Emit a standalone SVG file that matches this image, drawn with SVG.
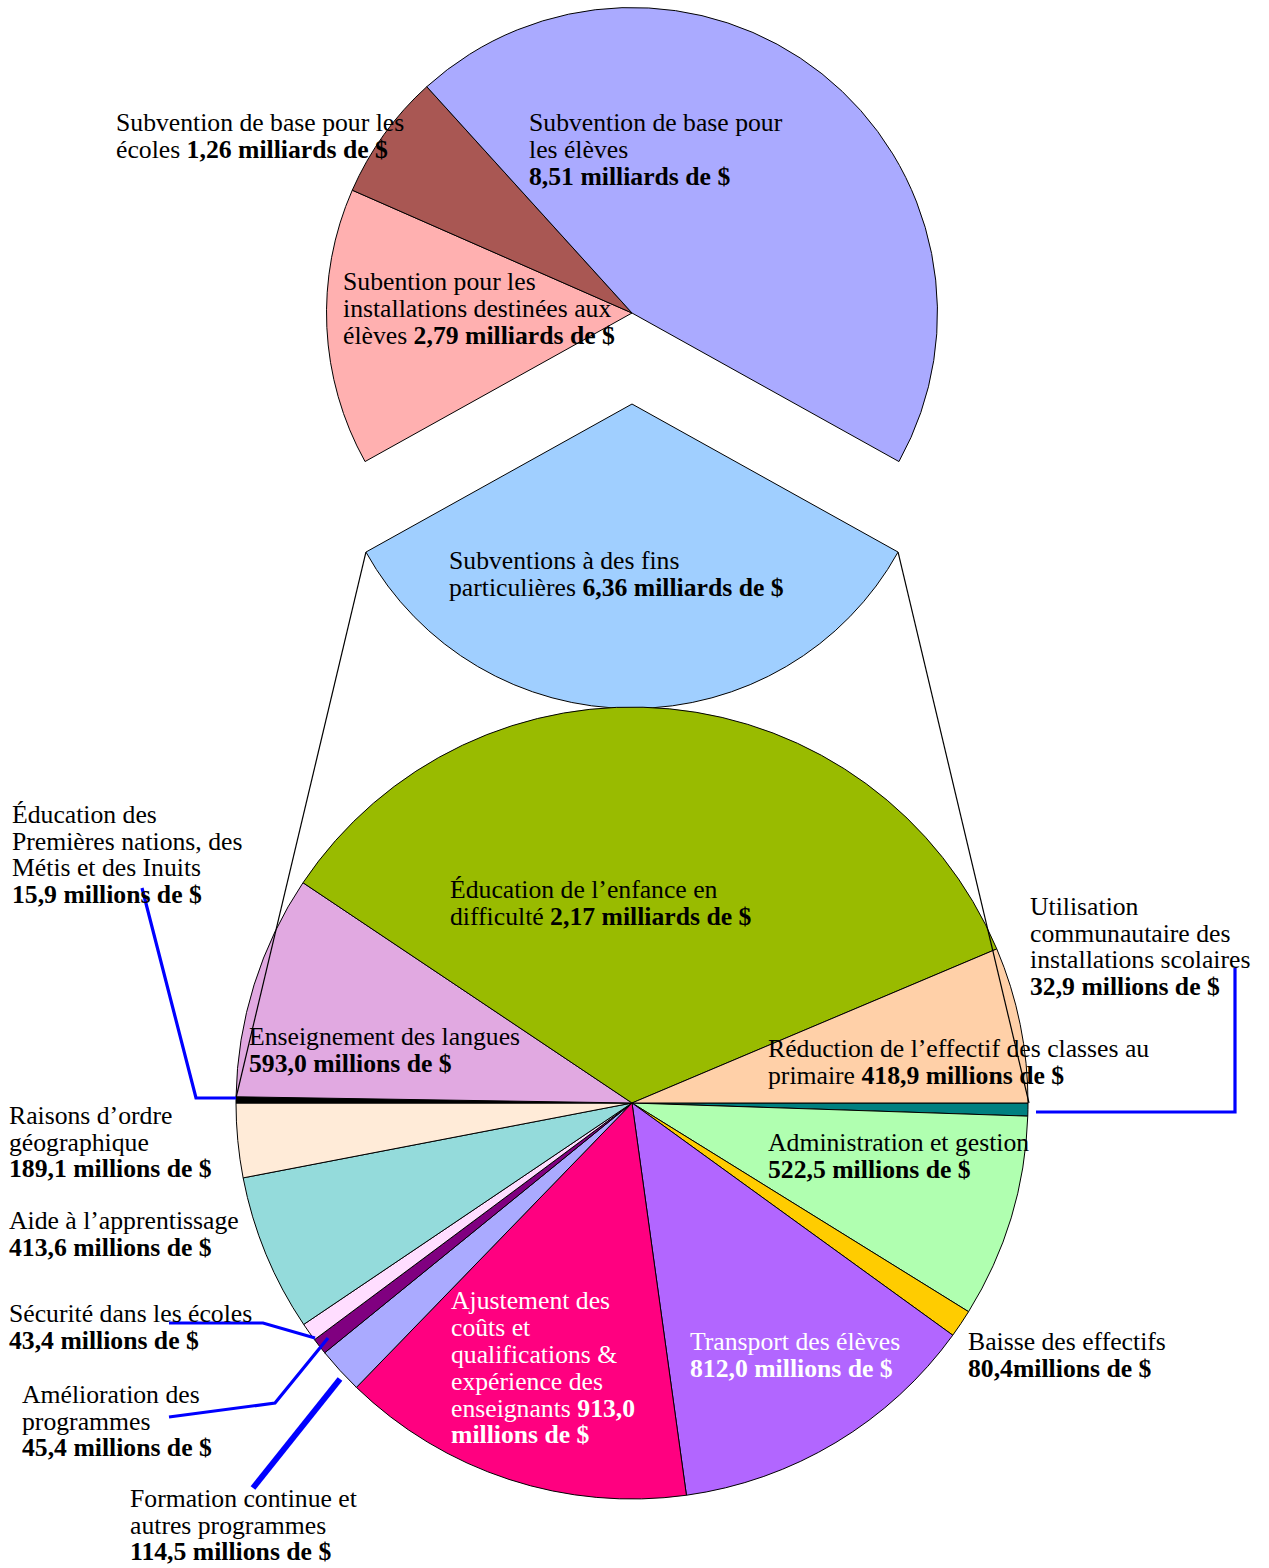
<svg xmlns="http://www.w3.org/2000/svg" width="1269" height="1568" viewBox="0 0 1269 1568">
<style>
.s{stroke:#000;stroke-width:1;stroke-linejoin:round}
text{font-family:"Liberation Serif","Times New Roman",serif;font-size:25.7px;fill:#000}
.w{fill:#fff}
.b{font-weight:bold}
.thin{fill:none;stroke:#000;stroke-width:1.2}
.lead{fill:none;stroke:#0000FF;stroke-width:3.2}
</style>
<rect width="1269" height="1568" fill="#fff"/>

<g id="top-pie">
<g id="node-subv-installations">
<path class="s" fill="#FFB0B0" d="M632,313 L365.06,461.56 A305.5,305.5 0 0 1 352.27,190.2 Z"/>
</g>
<g id="node-subv-ecoles">
<path class="s" fill="#A95753" d="M632,313 L352.27,190.2 A305.5,305.5 0 0 1 426.79,86.69 Z"/>
</g>
<g id="node-subv-eleves">
<path class="s" fill="#AAAAFF" d="M632,313 L426.79,86.69 A305.5,305.5 0 0 1 898.94,461.56 Z"/>
</g>
<g id="node-subv-fins">
<path class="s" fill="#A0CFFF" d="M632,404 L898.07,552.07 A304.5,304.5 0 0 1 365.93,552.07 Z"/>
</g>
</g>

<g id="bottom-pie">
<g id="node-utilisation"><path class="s" fill="#008080" d="M632,1103 L1028,1103 A396,396 0 0 1 1027.78,1116.13 Z"/></g>
<g id="node-administration"><path class="s" fill="#B0FFB0" d="M632,1103 L1027.78,1116.13 A396,396 0 0 1 968.56,1311.68 Z"/></g>
<g id="node-baisse"><path class="s" fill="#FFCC00" d="M632,1103 L968.56,1311.68 A396,396 0 0 1 952.78,1335.2 Z"/></g>
<g id="node-transport"><path class="s" fill="#B266FF" d="M632,1103 L952.78,1335.2 A396,396 0 0 1 686.43,1495.24 Z"/></g>
<g id="node-ajustement"><path class="s" fill="#FF0080" d="M632,1103 L686.43,1495.24 A396,396 0 0 1 356.42,1387.38 Z"/></g>
<g id="node-formation"><path class="s" fill="#AAAAFF" d="M632,1103 L356.42,1387.38 A396,396 0 0 1 324.69,1352.75 Z"/></g>
<g id="node-amelioration"><path class="s" fill="#800080" d="M632,1103 L324.69,1352.75 A396,396 0 0 1 314.5,1339.66 Z"/></g>
<g id="node-securite"><path class="s" fill="#FFDDFF" d="M632,1103 L314.5,1339.66 A396,396 0 0 1 303.7,1324.44 Z"/></g>
<g id="node-aide"><path class="s" fill="#94DBDB" d="M632,1103 L303.7,1324.44 A396,396 0 0 1 243.14,1177.88 Z"/></g>
<g id="node-raisons"><path class="s" fill="#FFEBD8" d="M632,1103 L243.14,1177.88 A396,396 0 0 1 236,1103 Z"/></g>
<g id="node-premieres"><path class="s" fill="#000000" d="M632,1103 L236,1103 A396,396 0 0 1 236.05,1096.78 Z"/></g>
<g id="node-langues"><path class="s" fill="#E1A9E1" d="M632,1103 L236.05,1096.78 A396,396 0 0 1 303,882.71 Z"/></g>
<g id="node-enfance"><path class="s" fill="#99BB00" d="M632,1103 L303,882.71 A396,396 0 0 1 996.79,948.91 Z"/></g>
<g id="node-reduction"><path class="s" fill="#FFD0A8" d="M632,1103 L996.79,948.91 A396,396 0 0 1 1028,1103 Z"/></g>
</g>

<g id="connectors">
<line class="thin" x1="365.93" y1="552.07" x2="236" y2="1098"/>
<line class="thin" x1="898.07" y1="552.07" x2="1029" y2="1103"/>
<polyline class="lead" points="142,888 196,1098 236,1098"/>
<polyline class="lead" points="1235,968 1235,1112 1036,1112"/>
<polyline class="lead" points="169,1323 263,1323 315,1338"/>
<polyline class="lead" points="169,1417 275,1403 328,1338"/>
<line class="lead" x1="253" y1="1488" x2="340" y2="1379" style="stroke-width:6"/>
</g>

<g id="labels">
<g id="label-subv-ecoles">
<text x="116" y="131">Subvention de base pour les</text>
<text x="116" y="158">écoles <tspan class="b">1,26 milliards de $</tspan></text>
</g>
<g id="label-subv-eleves">
<text x="529" y="131">Subvention de base pour</text>
<text x="529" y="158">les élèves</text>
<text x="529" y="185" class="b">8,51 milliards de $</text>
</g>
<g id="label-subv-installations">
<text x="343" y="290">Subention pour les</text>
<text x="343" y="317">installations destinées aux</text>
<text x="343" y="343.5">élèves <tspan class="b">2,79 milliards de $</tspan></text>
</g>
<g id="label-subv-fins">
<text x="449" y="569">Subventions à des fins</text>
<text x="449" y="596">particulières <tspan class="b">6,36 milliards de $</tspan></text>
</g>
<g id="label-premieres">
<text x="12" y="823">Éducation des</text>
<text x="12" y="850">Premières nations, des</text>
<text x="12" y="876">Métis et des Inuits</text>
<text x="12" y="903" class="b">15,9 millions de $</text>
</g>
<g id="label-enfance">
<text x="450" y="898">Éducation de l’enfance en</text>
<text x="450" y="925">difficulté <tspan class="b">2,17 milliards de $</tspan></text>
</g>
<g id="label-utilisation">
<text x="1030" y="915">Utilisation</text>
<text x="1030" y="941.7">communautaire des</text>
<text x="1030" y="968.3">installations scolaires</text>
<text x="1030" y="995" class="b">32,9 millions de $</text>
</g>
<g id="label-langues">
<text x="249" y="1045">Enseignement des langues</text>
<text x="249" y="1071.7" class="b">593,0 millions de $</text>
</g>
<g id="label-reduction">
<text x="768" y="1057.3">Réduction de l’effectif des classes au</text>
<text x="768" y="1084">primaire <tspan class="b">418,9 millions de $</tspan></text>
</g>
<g id="label-raisons">
<text x="9" y="1124">Raisons d’ordre</text>
<text x="9" y="1150.5">géographique</text>
<text x="9" y="1177" class="b">189,1 millions de $</text>
</g>
<g id="label-administration">
<text x="768" y="1151">Administration et gestion</text>
<text x="768" y="1178" class="b">522,5 millions de $</text>
</g>
<g id="label-aide">
<text x="9" y="1229">Aide à l’apprentissage</text>
<text x="9" y="1256" class="b">413,6 millions de $</text>
</g>
<g id="label-securite">
<text x="9" y="1322">Sécurité dans les écoles</text>
<text x="9" y="1349" class="b">43,4 millions de $</text>
</g>
<g id="label-amelioration">
<text x="22" y="1403">Amélioration des</text>
<text x="22" y="1429.5">programmes</text>
<text x="22" y="1456" class="b">45,4 millions de $</text>
</g>
<g id="label-formation">
<text x="130" y="1507">Formation continue et</text>
<text x="130" y="1533.5">autres programmes</text>
<text x="130" y="1560" class="b">114,5 millions de $</text>
</g>
<g id="label-ajustement">
<text class="w" x="451" y="1309.3">Ajustement des</text>
<text class="w" x="451" y="1336">coûts et</text>
<text class="w" x="451" y="1362.7">qualifications &amp;</text>
<text class="w" x="451" y="1390">expérience des</text>
<text class="w" x="451" y="1416.7">enseignants <tspan class="b">913,0</tspan></text>
<text class="w b" x="451" y="1443.3">millions de $</text>
</g>
<g id="label-transport">
<text class="w" x="690" y="1350">Transport des élèves</text>
<text class="w b" x="690" y="1377">812,0 millions de $</text>
</g>
<g id="label-baisse">
<text x="968" y="1350">Baisse des effectifs</text>
<text x="968" y="1377" class="b">80,4millions de $</text>
</g>
</g>
</svg>
